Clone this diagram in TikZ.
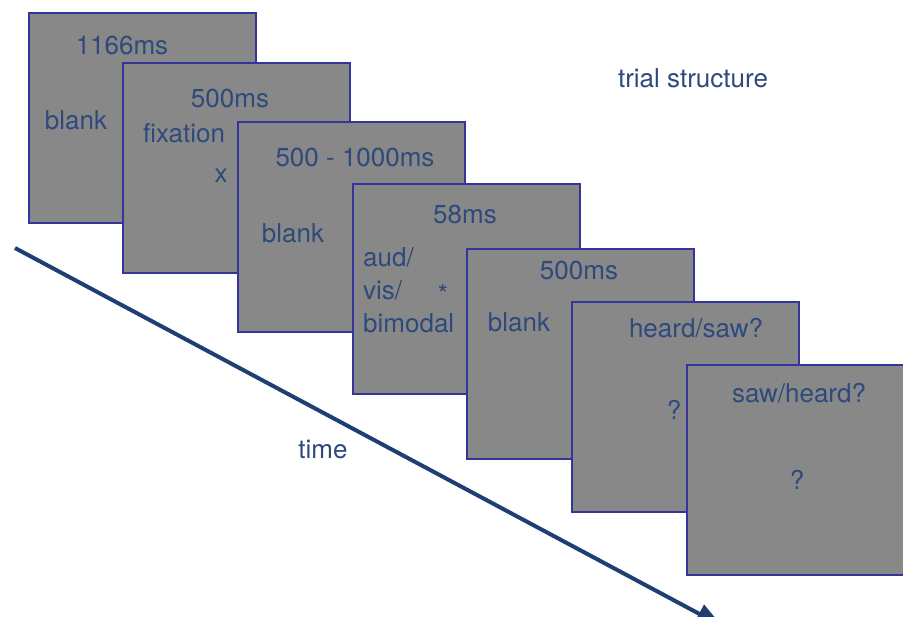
\documentclass[tikz,border=0pt]{standalone}
\usepackage{fontspec}
\setmainfont{TeX Gyre Heros}
\usetikzlibrary{
  arrows.meta,
  positioning,
}
\definecolor{slidefill}{HTML}{888888}
\definecolor{slideedge}{HTML}{34349A}
\definecolor{slidetext}{HTML}{2E4A7D}
\definecolor{timeline}{HTML}{1D3F73}
\def\myslidew{227pt}
\def\myslideh{210pt}
\tikzset{
  font=\fontsize{26}{31}\selectfont,
  x=1pt,
  y=-1pt,
  >={Triangle[length=26pt,width=20pt]},
  my slide/.style={
    draw=slideedge,
    fill=slidefill,
    line width=2pt,
    minimum width=\myslidew,
    minimum height=\myslideh,
    inner sep=0mm,
    anchor=north west,
    rectangle
  },
  my label/.style={
    text=slidetext,
    inner sep=0mm,
    anchor=base
  },
  my label left/.style={
    my label,
    anchor=base west
  },
  time line/.style={
    draw=timeline,
    line width=4pt
  }
}

\begin{document}
\begin{tikzpicture}
\useasboundingbox (0,0) rectangle (903,617);
% slides, back to front
\node[my slide] (s1) at (28,12)  {};
\node[my label] (s1d) at (122,55)  {1166ms};
\node[my label] (s1t) at (76,130)  {blank};

\node[my slide] (s2) at (122,62) {};
\node[my label] (s2d) at (230,108) {500ms};
\node[my label] (s2t) at (184,143) {fixation};
\node[my label] (s2s) at (221,183) {x};

\node[my slide] (s3) at (237,121) {};
\node[my label] (s3d) at (355,167) {500 - 1000ms};
\node[my label] (s3t) at (293,243) {blank};

\node[my slide] (s4) at (352,183) {};
\node[my label]      (s4d) at (465,224) {58ms};
\node[my label left] (s4a) at (363,267) {aud/};
\node[my label left] (s4b) at (363,300) {vis/};
\node[my label left] (s4c) at (363,333) {bimodal};
\node[my label]      (s4s) at (443,304) {*};

\node[my slide] (s5) at (466,248) {};
\node[my label] (s5d) at (579,280) {500ms};
\node[my label] (s5t) at (519,332) {blank};

\node[my slide] (s6) at (571,301) {};
\node[my label] (s6q) at (696,338) {heard/saw?};
\node[my label] (s6s) at (674,420) {?};

\node[my slide] (s7) at (686,364) {};
\node[my label] (s7q) at (799,403) {saw/heard?};
\node[my label] (s7s) at (797,490) {?};

% captions
\node[my label] (title) at (693,88)  {trial structure};
\node[my label] (time)  at (323,459) {time};

% time axis
\coordinate (t0) at (15,248);
\coordinate (t1) at (722,626);
\draw[time line,->] (t0) -- (t1);
\end{tikzpicture}
\end{document}
